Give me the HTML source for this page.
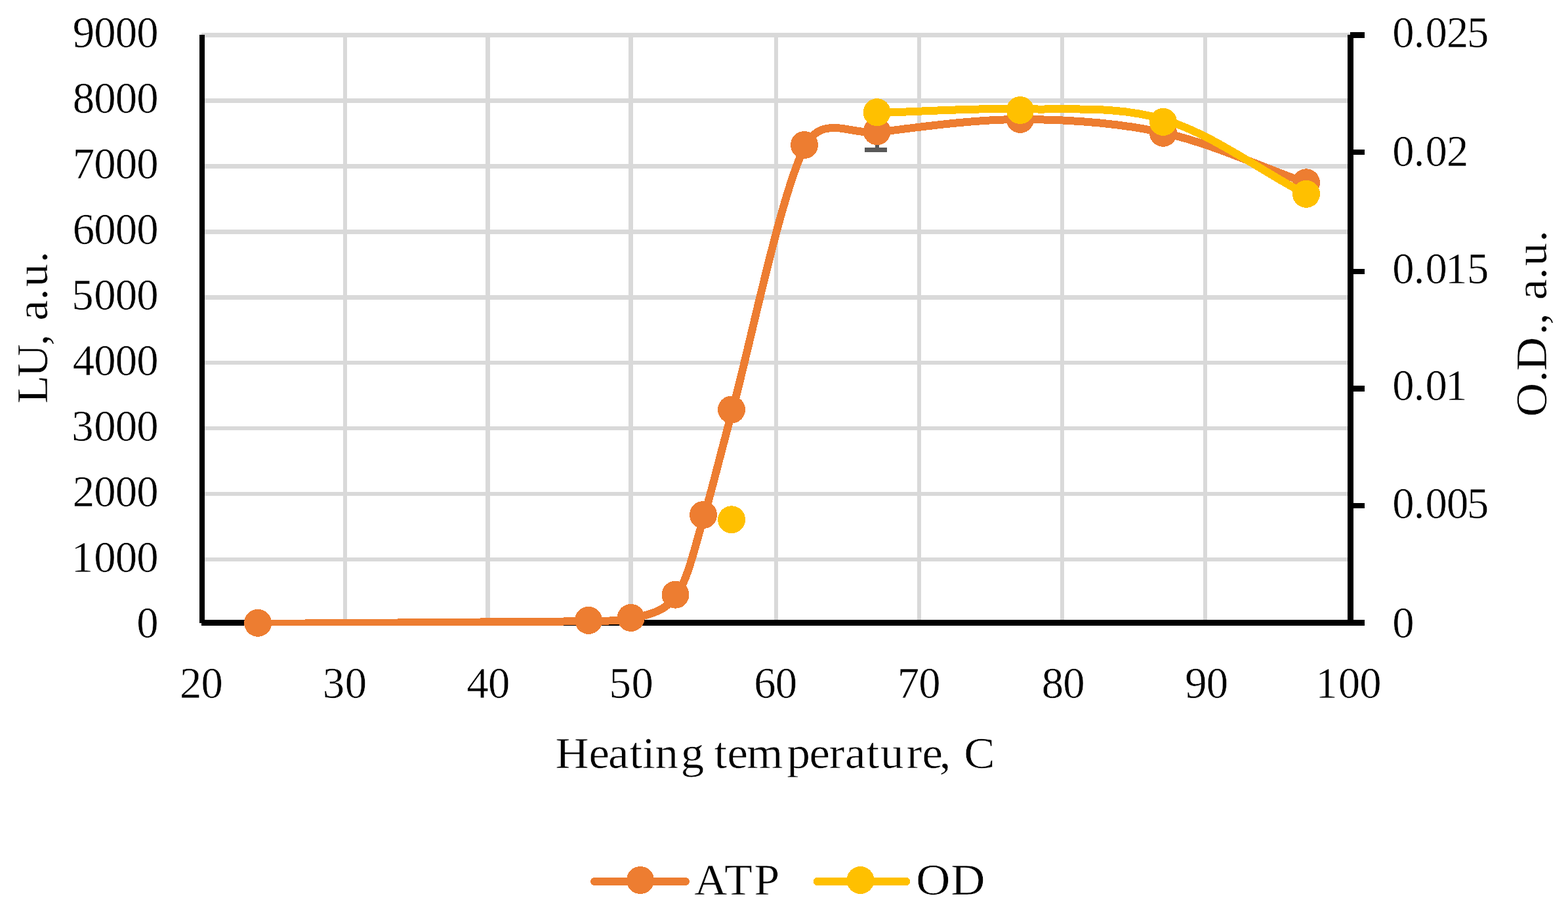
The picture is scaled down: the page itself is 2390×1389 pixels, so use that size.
<!DOCTYPE html>
<html lang="en"><head><meta charset="utf-8"><title>ATP and OD vs heating temperature</title>
<style>html,body{margin:0;padding:0;background:#fff}body{width:2390px;height:1389px;overflow:hidden}svg{display:block}text{font-family:"Liberation Serif",serif;fill:#000;white-space:pre;stroke:#fff;stroke-width:0.5px}</style>
</head><body>
<svg width="2390" height="1389" viewBox="0 0 2390 1389">
<rect width="2390" height="1389" fill="#fff"/>
<g fill="#D9D9D9" shape-rendering="crispEdges">
<rect x="523" y="53" width="6" height="892"/>
<rect x="740" y="53" width="7" height="892"/>
<rect x="958" y="53" width="7" height="892"/>
<rect x="1180" y="53" width="6" height="892"/>
<rect x="1398" y="53" width="6" height="892"/>
<rect x="1616" y="53" width="6" height="892"/>
<rect x="1834" y="53" width="6" height="892"/>
<rect x="307" y="50" width="1751" height="7"/>
<rect x="307" y="150" width="1751" height="7"/>
<rect x="307" y="250" width="1751" height="7"/>
<rect x="307" y="350" width="1751" height="7"/>
<rect x="307" y="450" width="1751" height="7"/>
<rect x="307" y="550" width="1751" height="6"/>
<rect x="307" y="650" width="1751" height="6"/>
<rect x="307" y="750" width="1751" height="6"/>
<rect x="307" y="850" width="1751" height="6"/>
</g>
<g fill="#000" shape-rendering="crispEdges">
<rect x="304" y="53" width="8" height="897"/>
<rect x="2054" y="53" width="9" height="897"/>
<rect x="307" y="945" width="1773" height="9"/>
<rect x="2058" y="49" width="22" height="9"/>
<rect x="2058" y="228" width="22" height="8"/>
<rect x="2058" y="410" width="22" height="8"/>
<rect x="2058" y="588" width="22" height="9"/>
<rect x="2058" y="767" width="22" height="8"/>
</g>
<g fill="#595959" shape-rendering="crispEdges">
<rect x="1334" y="172" width="6" height="57"/>
<rect x="1318" y="225" width="34" height="7"/>
<rect x="1318" y="169" width="34" height="7"/>
</g>
<clipPath id="plot"><rect x="300" y="40" width="1770" height="914"/></clipPath>
<path clip-path="url(#plot)" shape-rendering="crispEdges" fill="none" stroke="#ED7D31" stroke-width="12" stroke-linecap="round" stroke-linejoin="round" d="M394.35 951 C562.35 949.73 803.58 948.42 898.35 947.2 C930.7 946.78 955.42 945.85 962.95 943.65 C985.02 937.19 1012.37 934.6 1030.75 908.45 C1049.13 882.3 1059 833.78 1073.25 786.75 C1085.4 746.65 1094.37 706.4 1116.25 626.25 C1141.92 532.25 1190.3 293.51 1227.25 222.75 C1253.33 172.81 1299.25 206.49 1337.95 201.7 C1392.78 194.91 1483.53 181.85 1556.25 182 C1628.97 182.15 1701.58 186.42 1774.25 202.6 C1846.92 218.78 1919.58 253.6 1992.25 279.1"/>
<g fill="#ED7D31" shape-rendering="crispEdges">
<circle cx="393.1" cy="949.8" r="21"/>
<circle cx="897.1" cy="945.9" r="21"/>
<circle cx="961.7" cy="941.9" r="21"/>
<circle cx="1029.5" cy="906.7" r="21"/>
<circle cx="1072" cy="785" r="21"/>
<circle cx="1115" cy="624.5" r="21"/>
<circle cx="1226" cy="221" r="21"/>
<circle cx="1336.7" cy="200.2" r="21"/>
<circle cx="1555" cy="181.9" r="21"/>
<circle cx="1773" cy="202.8" r="21"/>
<circle cx="1991" cy="278.3" r="21"/>
</g>
<path clip-path="url(#plot)" shape-rendering="crispEdges" fill="none" stroke="#FFC000" stroke-width="12" stroke-linecap="round" stroke-linejoin="round" d="M1337.95 172 C1410.72 170.08 1483.53 164.52 1556.25 166.25 C1628.97 167.98 1701.58 160.56 1774.25 182.4 C1846.92 204.24 1919.58 259 1992.25 297.3"/>
<g fill="#FFC000" shape-rendering="crispEdges">
<circle cx="1115.1" cy="792.3" r="21"/>
<circle cx="1336.7" cy="171.2" r="21"/>
<circle cx="1555" cy="168" r="21"/>
<circle cx="1773" cy="185.9" r="21"/>
<circle cx="1991" cy="295.8" r="21"/>
</g>
<g>
<text font-size="66.7" x="110.7 143.2 175.7 208.2" y="71.5">9000</text>
<text font-size="66.7" x="110.7 143.2 175.7 208.2" y="171.5">8000</text>
<text font-size="66.7" x="110.7 143.2 175.7 208.2" y="271.5">7000</text>
<text font-size="66.7" x="110.7 143.2 175.7 208.2" y="371.5">6000</text>
<text font-size="66.7" x="109.2 143.2 175.7 208.2" y="471.5">5000</text>
<text font-size="66.7" x="110.7 143.2 175.7 208.2" y="571.5">4000</text>
<text font-size="66.7" x="109.2 143.2 175.7 208.2" y="671.5">3000</text>
<text font-size="66.7" x="110.7 143.2 175.7 208.2" y="771.5">2000</text>
<text font-size="66.7" x="108.7 143.2 175.7 208.2" y="871.5">1000</text>
<text font-size="66.7" x="208.2" y="971.5">0</text>
<text font-size="66.7" x="2122.3 2154.8 2172.5 2205 2236" y="71.5">0.025</text>
<text font-size="66.7" x="2122.3 2154.8 2172.5 2205" y="253.3">0.02</text>
<text font-size="66.7" x="2122.3 2154.8 2172.5 2203 2236" y="432">0.015</text>
<text font-size="66.7" x="2122.3 2154.8 2172.5 2203" y="610.4">0.01</text>
<text font-size="66.7" x="2122.3 2154.8 2172.5 2205 2236" y="789.7">0.005</text>
<text font-size="66.7" x="2122.3" y="971.5">0</text>
<text font-size="66.7" x="273.9 306.4" y="1064">20</text>
<text font-size="66.7" x="491.7 525.7" y="1064">30</text>
<text font-size="66.7" x="711.4 743.9" y="1064">40</text>
<text font-size="66.7" x="928.5 962.5" y="1064">50</text>
<text font-size="66.7" x="1149.3 1181.8" y="1064">60</text>
<text font-size="66.7" x="1367.8 1400.3" y="1064">70</text>
<text font-size="66.7" x="1587.8 1620.3" y="1064">80</text>
<text font-size="66.7" x="1806.2 1838.7" y="1064">90</text>
<text font-size="66.7" x="2005.3 2039.8 2072.3" y="1064">100</text>
</g>
<text transform="scale(1.05 1)" font-size="67.5" x="806.12 854.78 882.77 913.73 932.46 950.86 988.41 1022.16 1036.68 1055.73 1084.04 1142.38 1174.78 1203.52 1226.58 1257.54 1278.02 1315.91 1338.59 1363.59 1380.47 1399.3" y="1171">Heating temperature, C</text>
<text transform="translate(72 0) rotate(-90) scale(1.04 1)" font-size="67.5" x="-591.58 -553.12 -506.64 -489.76 -469.98 -440.22 -420.49 -385.36" y="0">LU, a.u.</text>
<text transform="translate(2357.2 0) rotate(-90) scale(1.06 1)" font-size="67.5" x="-599.47 -549.85 -533.57 -481.93 -466.98 -450.11 -431.37 -401.93 -382.73 -348.06" y="0">O.D., a.u.</text>
<text transform="scale(1.03 1)" font-size="67.5" x="1027.39 1072.1 1116.03" y="1364.1">ATP</text>
<text transform="scale(1.07 1)" font-size="67.5" x="1304.97 1354.51" y="1364.1">OD</text>
<g stroke-width="12" stroke-linecap="round" shape-rendering="crispEdges">
<line x1="906" y1="1344" x2="1045" y2="1344" stroke="#ED7D31"/>
<line x1="1245.5" y1="1344" x2="1381.5" y2="1344" stroke="#FFC000"/>
</g>
<circle shape-rendering="crispEdges" cx="976" cy="1342" r="21" fill="#ED7D31"/>
<circle shape-rendering="crispEdges" cx="1311.5" cy="1342" r="21" fill="#FFC000"/>
</svg></body></html>
